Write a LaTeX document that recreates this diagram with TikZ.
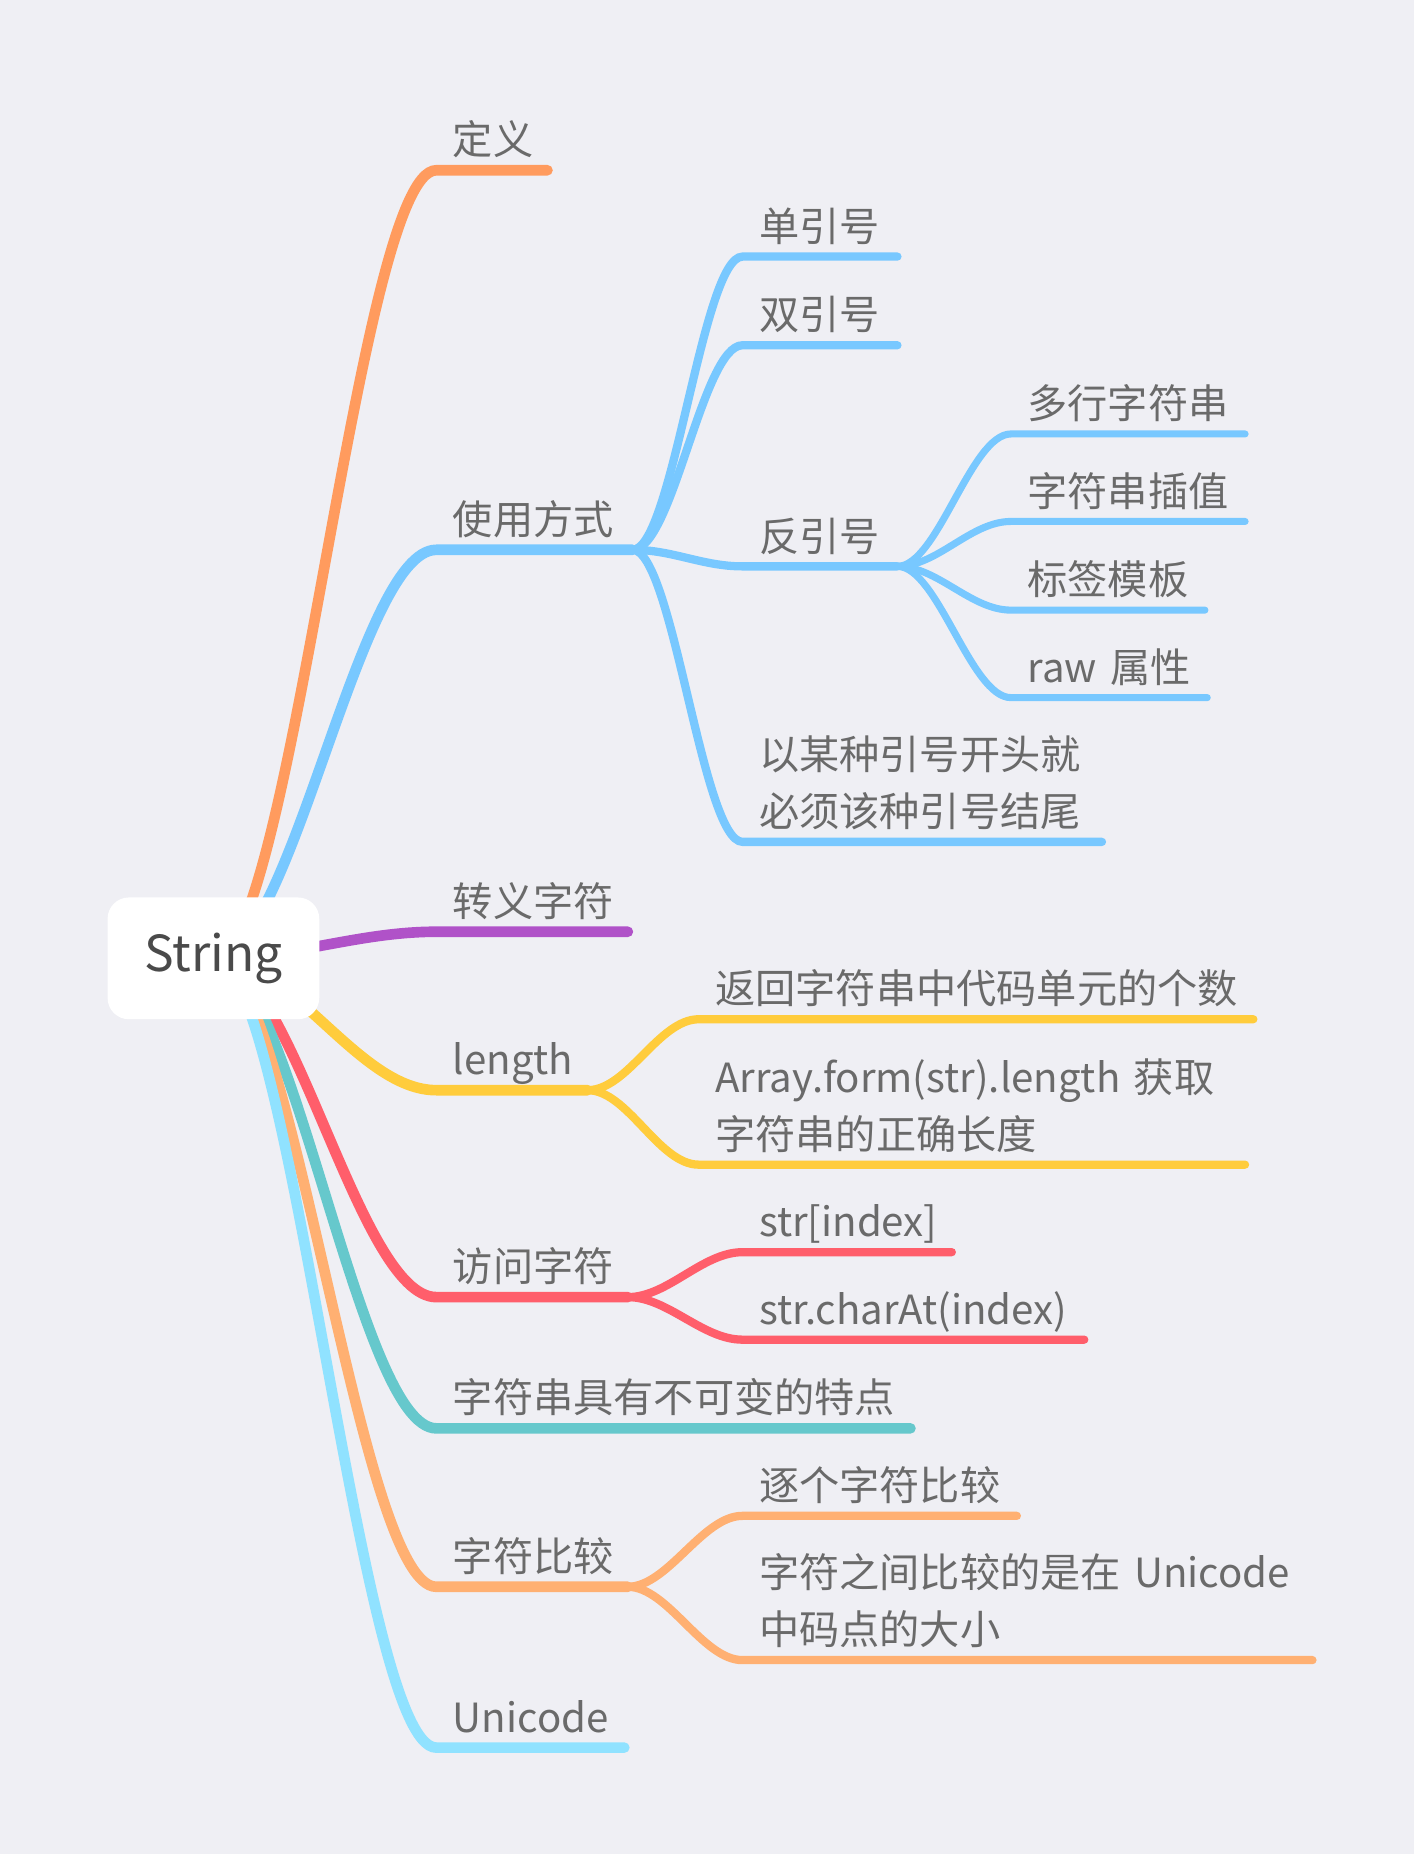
\documentclass[tikz,border=0pt]{standalone}
\usepackage{fontspec}
\setmainfont{Noto Sans CJK SC}
\usetikzlibrary{backgrounds}
\definecolor{bgc}{HTML}{EFEFF4}
\definecolor{txtgray}{HTML}{6A6A6A}
\definecolor{roottxt}{HTML}{4A4A4A}
\definecolor{cOrange}{HTML}{FF9B5E}
\definecolor{cBlue}{HTML}{78C8FF}
\definecolor{cPurple}{HTML}{B052C8}
\definecolor{cYellow}{HTML}{FFCC3C}
\definecolor{cRed}{HTML}{FF5E6B}
\definecolor{cTeal}{HTML}{66C8CC}
\definecolor{cPeach}{HTML}{FFB072}
\definecolor{cSky}{HTML}{90E2FF}
\tikzset{
  topic/.style={anchor=south west, inner xsep=14pt, inner ysep=13pt, outer sep=0pt,
                text depth=0pt, text width={#1-28}, align=left, text=txtgray,
                font=\fontsize{34}{48}\selectfont},
  rootbox/.style={fill=white, rounded corners=18pt, minimum width=179pt, minimum height=103pt,
                  inner sep=0pt, text=roottxt, font=\fontsize{42}{50}\selectfont},
  lv1/.style={draw=#1, line width=9pt, line cap=round},
  lv2/.style={draw=#1, line width=7pt, line cap=round},
  lv3/.style={draw=#1, line width=6pt, line cap=round},
}

\begin{document}
\begin{tikzpicture}[x=1pt,y=-1pt]
            \useasboundingbox (0,0) rectangle (1196,1568);
            \node[rootbox] (root) at (180.5,810.5) {String};

            \node[topic=94]  (def)   at (369,144)  {定义};
            \node[topic=166] (use)   at (369,465)  {使用方式};
            \node[topic=162] (esc)   at (369,788)  {转义字符};
            \node[topic=128] (len)   at (369,922)  {length};
            \node[topic=162] (acc)   at (369,1097) {访问字符};
            \node[topic=401] (immut) at (369,1208) {字符串具有不可变的特点};
            \node[topic=162] (cmp)   at (369,1342) {字符比较};
            \node[topic=159] (uni)   at (369,1478) {Unicode};

            \node[topic=131] (use-single) at (628,217) {单引号};
            \node[topic=131] (use-double) at (628,292) {双引号};
            \node[topic=131] (use-back)   at (628,479) {反引号};
            \node[topic=304, text depth=48pt] (use-pair) at (628,712) {以某种引号开头就\\必须该种引号结尾};

            \node[topic=198] (back-multi)  at (855,367) {多行字符串};
            \node[topic=198] (back-interp) at (855,441) {字符串插值};
            \node[topic=164] (back-tag)    at (855,516) {标签模板};
            \node[topic=166] (back-raw)    at (855,590) {raw~属性};

            \node[topic=469] (len-count) at (591,862) {返回字符串中代码单元的个数};
            \node[topic=462, text depth=48pt] (len-array) at (591,985) {Array.form(str).length~获取\\字符串的正确长度};

            \node[topic=177] (acc-index)  at (628,1059) {str[index]};
            \node[topic=289] (acc-charat) at (628,1133) {str.charAt(index)};

            \node[topic=232] (cmp-each) at (628,1282) {逐个字符比较};
            \node[topic=482, text depth=48pt] (cmp-code) at (628,1404) {字符之间比较的是在~Unicode\\中码点的大小};

            % Background
            \begin{scope}[on background layer]
                \fill[bgc] (0,0) rectangle (1196,1568);
                \draw[lv1=cOrange] (root.center) .. controls +(66,0) and +(-66,0) .. (def.south west) -- (def.south east);
                \draw[lv1=cBlue]   (root.center) .. controls +(66,0) and +(-66,0) .. (use.south west) -- (use.south east);
                \draw[lv1=cPurple] (root.center) .. controls +(66,0) and +(-66,0) .. (esc.south west) -- (esc.south east);
                \draw[lv1=cYellow] (root.center) .. controls +(66,0) and +(-66,0) .. (len.south west) -- (len.south east);
                \draw[lv1=cRed]    (root.center) .. controls +(66,0) and +(-66,0) .. (acc.south west) -- (acc.south east);
                \draw[lv1=cTeal]   (root.center) .. controls +(66,0) and +(-66,0) .. (immut.south west) -- (immut.south east);
                \draw[lv1=cPeach]  (root.center) .. controls +(66,0) and +(-66,0) .. (cmp.south west) -- (cmp.south east);
                \draw[lv1=cSky]    (root.center) .. controls +(66,0) and +(-66,0) .. (uni.south west) -- (uni.south east);

                \draw[lv2=cBlue] (use.south east) .. controls +(34,0) and +(-34,0) .. (use-single.south west) -- (use-single.south east);
                \draw[lv2=cBlue] (use.south east) .. controls +(34,0) and +(-34,0) .. (use-double.south west) -- (use-double.south east);
                \draw[lv2=cBlue] (use.south east) .. controls +(34,0) and +(-34,0) .. (use-back.south west) -- (use-back.south east);
                \draw[lv2=cBlue] (use.south east) .. controls +(34,0) and +(-34,0) .. (use-pair.south west) -- (use-pair.south east);

                \draw[lv3=cBlue] (use-back.south east) .. controls +(34,0) and +(-34,0) .. (back-multi.south west) -- (back-multi.south east);
                \draw[lv3=cBlue] (use-back.south east) .. controls +(34,0) and +(-34,0) .. (back-interp.south west) -- (back-interp.south east);
                \draw[lv3=cBlue] (use-back.south east) .. controls +(34,0) and +(-34,0) .. (back-tag.south west) -- (back-tag.south east);
                \draw[lv3=cBlue] (use-back.south east) .. controls +(34,0) and +(-34,0) .. (back-raw.south west) -- (back-raw.south east);

                \draw[lv2=cYellow] (len.south east) .. controls +(34,0) and +(-34,0) .. (len-count.south west) -- (len-count.south east);
                \draw[lv2=cYellow] (len.south east) .. controls +(34,0) and +(-34,0) .. (len-array.south west) -- (len-array.south east);

                \draw[lv2=cRed] (acc.south east) .. controls +(34,0) and +(-34,0) .. (acc-index.south west) -- (acc-index.south east);
                \draw[lv2=cRed] (acc.south east) .. controls +(34,0) and +(-34,0) .. (acc-charat.south west) -- (acc-charat.south east);

                \draw[lv2=cPeach] (cmp.south east) .. controls +(34,0) and +(-34,0) .. (cmp-each.south west) -- (cmp-each.south east);
                \draw[lv2=cPeach] (cmp.south east) .. controls +(34,0) and +(-34,0) .. (cmp-code.south west) -- (cmp-code.south east);
            \end{scope}
\end{tikzpicture}
\end{document}
